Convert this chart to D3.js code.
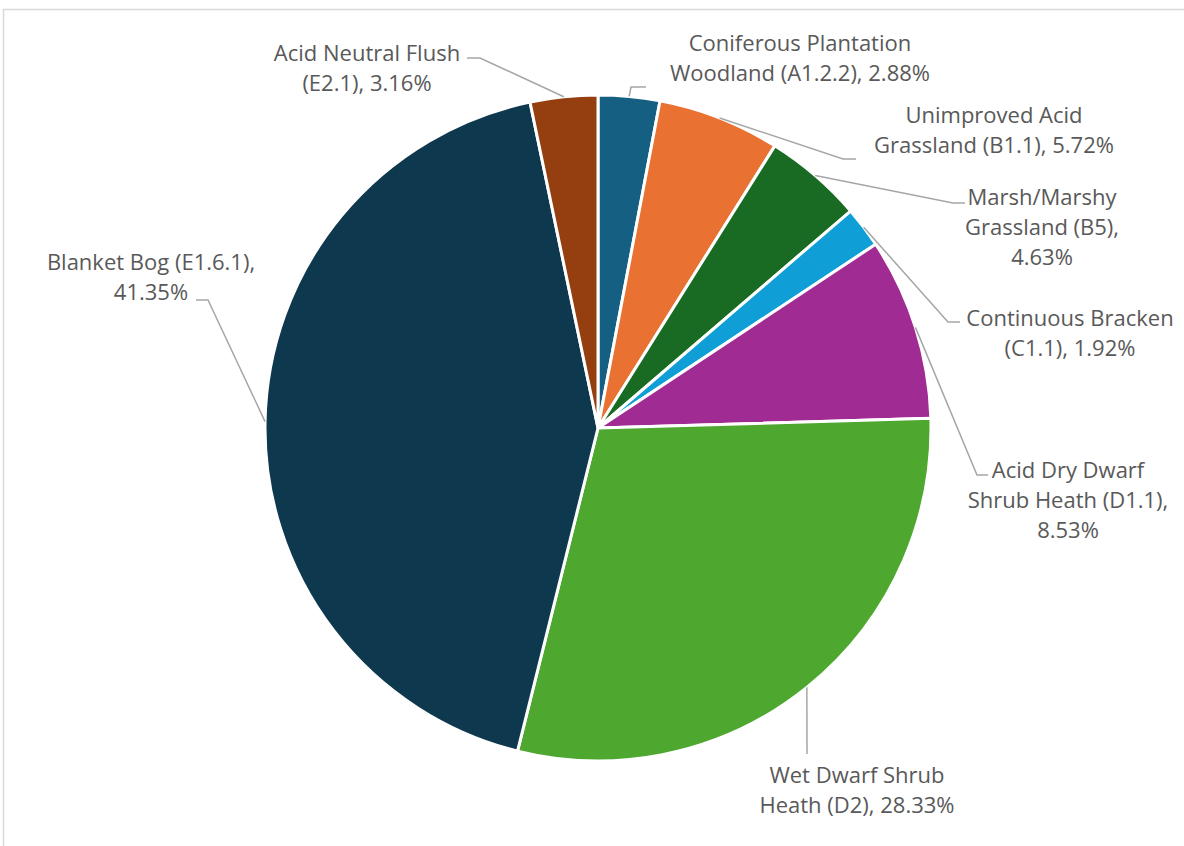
<!DOCTYPE html>
<html>
<head>
<meta charset="utf-8">
<script src="https://cdn.jsdelivr.net/npm/d3@7"></script>
<style>
  body { margin: 0; background: #fff; }
  svg { display: block; }
</style>
</head>
<body>
<svg id="chart" width="1184" height="846"></svg>
<script>
// chart data
var categories = [
    "Coniferous Plantation Woodland (A1.2.2)",
    "Unimproved Acid Grassland (B1.1)",
    "Marsh/Marshy Grassland (B5)",
    "Continuous Bracken (C1.1)",
    "Acid Dry Dwarf Shrub Heath (D1.1)",
    "Wet Dwarf Shrub Heath (D2)",
    "Blanket Bog (E1.6.1)",
    "Acid Neutral Flush (E2.1)"
]
var values = [2.88, 5.72, 4.63, 1.92, 8.53, 28.33, 41.35, 3.16]
var colors = ["#156082", "#e97132", "#196b24", "#0f9ed5", "#a02b93", "#4ea72e", "#0e384d", "#953f10"]

// how many words go on each label line
var lineWords = [[2, 3], [2, 3], [1, 2, 1], [2, 2], [3, 3, 1], [3, 3], [3, 1], [3, 2]]

// label layout: text centre x, first line centre y, leader elbow x/y, leader end x
var labelPos = [
    { x: 800, y: 43, ex: 631, ey: 87, endX: 646 },
    { x: 994, y: 115, ex: 843, ey: 159, endX: 856 },
    { x: 1042, y: 197, ex: 953, ey: 203, endX: 965 },
    { x: 1070, y: 318, ex: 948, ey: 322, endX: 960 },
    { x: 1068, y: 470, ex: 977, ey: 475, endX: 988 },
    { x: 857, y: 775, ex: 807, ey: 754, endX: 807 },
    { x: 151, y: 262, ex: 208, ey: 300, endX: 196 },
    { x: 367, y: 53, ex: 480, ey: 58, endX: 467 }
]

var cx = 598, cy = 428, radius = 333, lineH = 30

var svg = d3.select("#chart")

// chart frame
svg.append("rect")
    .attr("x", 3.5).attr("y", 9.5)
    .attr("width", 1200).attr("height", 900)
    .attr("fill", "none")
    .attr("stroke", "#d9d9d9")
    .attr("stroke-width", 1.5)

var pie = d3.pie().sort(null).value(function (d) { return d })
var arcs = pie(values)

var arc = d3.arc().innerRadius(0).outerRadius(radius)
var edgeArc = d3.arc().innerRadius(radius).outerRadius(radius)

var g = svg.append("g").attr("transform", "translate(" + cx + "," + cy + ")")

g.selectAll("path.slice")
    .data(arcs)
    .enter().append("path")
    .attr("class", "slice")
    .attr("d", arc)
    .attr("fill", function (d, i) { return colors[i] })
    .attr("stroke", "#fff")
    .attr("stroke-width", 3)
    .attr("stroke-linejoin", "round")

// leader lines
var lines = svg.append("g")
arcs.forEach(function (d, i) {
    var p = edgeArc.centroid(d)
    var lp = labelPos[i]
    var pts = [[cx + p[0], cy + p[1]], [lp.ex, lp.ey], [lp.endX, lp.ey]]
    lines.append("path")
        .attr("d", d3.line()(pts))
        .attr("fill", "none")
        .attr("stroke", "#a6a6a6")
        .attr("stroke-width", 1.5)
})

// labels
var labels = svg.append("g")
    .attr("font-family", "'Open Sans', sans-serif")
    .attr("font-size", "22px")
    .attr("fill", "#595959")
    .attr("text-anchor", "middle")

categories.forEach(function (c, i) {
    var words = (c + ", " + values[i].toFixed(2) + "%").split(" ")
    var lp = labelPos[i]
    var t = labels.append("text")
    var k = 0
    lineWords[i].forEach(function (n, j) {
        t.append("tspan")
            .attr("x", lp.x)
            .attr("y", lp.y + j * lineH)
            .attr("dy", "0.35em")
            .text(words.slice(k, k + n).join(" "))
        k += n
    })
})
</script>
</body>
</html>
